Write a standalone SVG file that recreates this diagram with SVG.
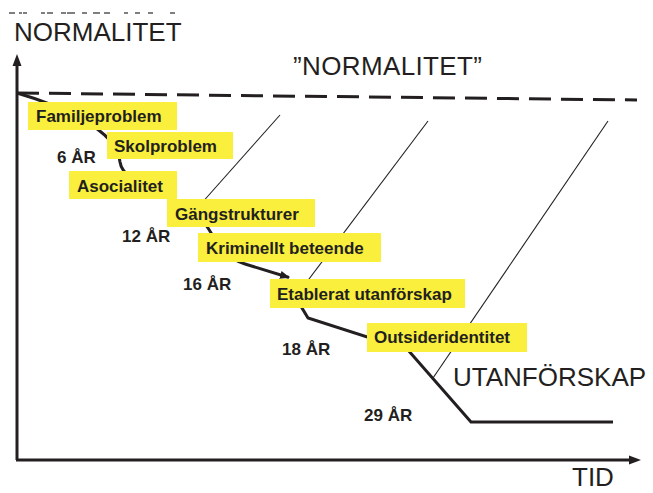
<svg xmlns="http://www.w3.org/2000/svg" width="653" height="493" viewBox="0 0 653 493">
<style>
.box{fill:#f9ef3c}
.lbl{font-family:"Liberation Sans",Arial,sans-serif;font-weight:bold;font-size:17px;fill:#231f20}
.big{font-family:"Liberation Sans",Arial,sans-serif;font-size:26px;fill:#231f20}
.thick{fill:none;stroke:#231f20;stroke-width:3;stroke-linejoin:miter}
.thin{fill:none;stroke:#231f20;stroke-width:1.1}
</style>
<defs>
<marker id="ah" markerWidth="10" markerHeight="8" refX="9" refY="4" orient="auto" markerUnits="userSpaceOnUse">
<path d="M0,0 L10,4 L0,8 Z" fill="#231f20"/>
</marker>
</defs>
<rect width="653" height="493" fill="#fff"/>
<path d="M9,13h6M19,13h3M23,13h4M41,13h4M47,13h6M61,13h5M67,13h8M82,13h5M93,13h7M104,13h6M124,13h4M135,13h5M148,13h5M170,13h5" stroke="#555" stroke-width="1.5"/>
<g id="axes">
<path d="M17,460 V62" class="thick"/>
<path d="M17,54 L12.5,66 L21.5,66 Z" fill="#231f20"/>
<path d="M16,460 H632" class="thick"/>
<path d="M641,460 L629,455.5 L629,464.5 Z" fill="#231f20"/>
</g>
<g id="normal-line">
<path d="M17,93 L637,100" fill="none" stroke="#231f20" stroke-width="3" stroke-dasharray="22 10"/>
</g>
<g id="connectors">
<path d="M280,115 L200,205" class="thin"/>
<path d="M428,121 L300,291" class="thin"/>
<path d="M608,121 L433,378" class="thin"/>
<path d="M17,93 C55,104 117,128 120,162 C123,188 188,196 208,228 C220,248 228,259 245,264 L289,277.5" class="thick" marker-end="url(#ah)"/>
<path d="M294,292 L302,308 L308,318 L408,350 L471,422 L613,422" class="thick"/>
</g>
<g id="n1"><rect class="box" x="28" y="102" width="149" height="28"/><text class="lbl" x="36" y="122">Familjeproblem</text></g>
<g id="n2"><rect class="box" x="107" y="132" width="126" height="27"/><text class="lbl" x="114" y="152">Skolproblem</text></g>
<g id="n3"><rect class="box" x="69" y="171" width="108" height="28"/><text class="lbl" x="77" y="192">Asocialitet</text></g>
<g id="n4"><rect class="box" x="167" y="199" width="148" height="28"/><text class="lbl" x="175" y="220">Gängstrukturer</text></g>
<g id="n5"><rect class="box" x="198" y="233" width="183" height="29"/><text class="lbl" x="206" y="254">Kriminellt beteende</text></g>
<g id="n6"><rect class="box" x="270" y="279" width="195" height="29"/><text class="lbl" x="277" y="300">Etablerat utanförskap</text></g>
<g id="n7"><rect class="box" x="367" y="323" width="160" height="29"/><text class="lbl" x="374" y="343">Outsideridentitet</text></g>
<g id="ages">
<text class="lbl" x="57" y="163">6 ÅR</text>
<text class="lbl" x="122" y="242">12 ÅR</text>
<text class="lbl" x="183" y="290">16 ÅR</text>
<text class="lbl" x="282" y="355">18 ÅR</text>
<text class="lbl" x="364" y="421">29 ÅR</text>
</g>
<g id="titles">
<text class="big" x="14" y="41">NORMALITET</text>
<text class="big" x="293" y="75" textLength="189">”NORMALITET”</text>
<text class="big" x="453" y="386">UTANFÖRSKAP</text>
<text class="big" x="572" y="486">TID</text>
</g>
</svg>
